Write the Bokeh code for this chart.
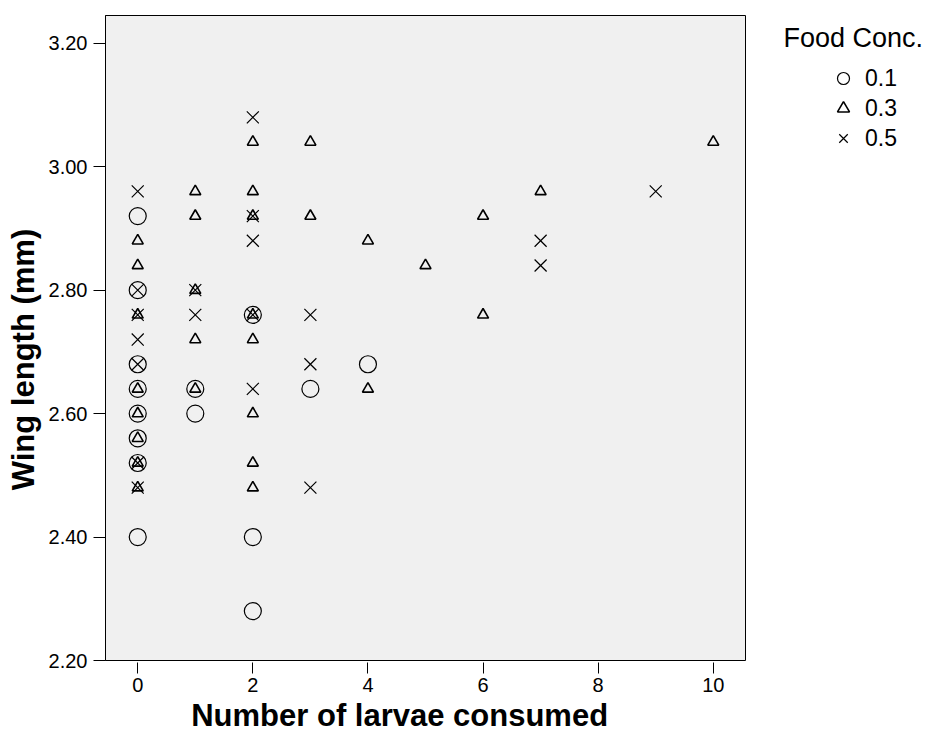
from bokeh.plotting import figure
from bokeh.layouts import row
from bokeh.models import (Range1d, FixedTicker, PrintfTickFormatter, Legend, LegendItem,
                          Label, ColumnDataSource)
from bokeh.embed import file_html
from bokeh.resources import INLINE

# ---- data ----
legend_title = "Food Conc."
conc_labels = ["0.1", "0.3", "0.5"]
conc_markers = ["circle", "triangle", "x"]

conc01_larvae = [0, 0, 0, 0, 0, 0, 0, 0, 1, 1, 2, 2, 2, 3, 4]
conc01_wing = [2.92, 2.80, 2.68, 2.64, 2.60, 2.56, 2.52, 2.40, 2.64, 2.60, 2.76, 2.40, 2.28, 2.64, 2.68]

conc03_larvae = [0, 0, 0, 0, 0, 0, 0, 0, 1, 1, 1, 1, 1, 2, 2, 2, 2, 2, 2, 2, 2,
                 3, 3, 4, 4, 5, 6, 6, 7, 10]
conc03_wing = [2.88, 2.84, 2.76, 2.64, 2.60, 2.56, 2.52, 2.48,
               2.96, 2.92, 2.80, 2.72, 2.64,
               3.04, 2.96, 2.92, 2.76, 2.72, 2.60, 2.52, 2.48,
               3.04, 2.92, 2.88, 2.64, 2.84, 2.92, 2.76, 2.96, 3.04]

conc05_larvae = [0, 0, 0, 0, 0, 0, 0, 1, 1, 2, 2, 2, 2, 2, 3, 3, 3, 7, 7, 9]
conc05_wing = [2.96, 2.80, 2.76, 2.72, 2.68, 2.52, 2.48,
               2.80, 2.76,
               3.08, 2.92, 2.88, 2.76, 2.64,
               2.76, 2.68, 2.48,
               2.88, 2.84, 2.96]

x_ticks = [0, 2, 4, 6, 8, 10]
y_ticks = [2.20, 2.40, 2.60, 2.80, 3.00, 3.20]
x_label = "Number of larvae consumed"
y_label = "Wing length (mm)"

FONT = "Liberation Sans"
marker_style = {
    "circle": dict(size=17, line_width=1.2),
    "triangle": dict(size=11, line_width=1.6),
    "x": dict(size=17, line_width=1.2),
}

# ---------------- main plot ----------------
p = figure(width=760, height=740, output_backend="svg", toolbar_location=None,
           x_range=Range1d(-0.56, 10.56), y_range=Range1d(2.20, 3.245),
           min_border_left=105, min_border_right=15, min_border_top=15, min_border_bottom=80)

p.background_fill_color = "#f0f0f0"
p.border_fill_color = "white"
p.outline_line_color = "black"
p.outline_line_width = 1
p.grid.visible = False

series = [(conc01_larvae, conc01_wing), (conc03_larvae, conc03_wing), (conc05_larvae, conc05_wing)]
for (xs, ys), mk in zip(series, conc_markers):
    src = ColumnDataSource(dict(x=xs, y=ys))
    p.scatter("x", "y", source=src, marker=mk, fill_color=None, line_color="black",
              **marker_style[mk])

xa = p.xaxis[0]
xa.ticker = FixedTicker(ticks=x_ticks)
xa.axis_line_color = None
xa.major_tick_in = -2
xa.major_tick_out = 13
xa.major_tick_line_color = "black"
xa.minor_tick_line_color = None
xa.major_label_standoff = 4
xa.major_label_text_font = FONT
xa.major_label_text_font_size = "20px"
xa.major_label_text_color = "black"
xa.axis_label = x_label + "\u00a0" * 6
xa.axis_label_text_font = FONT
xa.axis_label_text_font_style = "bold"
xa.axis_label_text_font_size = "31px"
xa.axis_label_text_color = "black"
xa.axis_label_standoff = 3

ya = p.yaxis[0]
ya.ticker = FixedTicker(ticks=y_ticks)
ya.formatter = PrintfTickFormatter(format="%.2f")
ya.axis_line_color = "black"
ya.major_tick_in = 0
ya.major_tick_out = 12
ya.major_tick_line_color = "black"
ya.minor_tick_line_color = None
ya.major_label_standoff = 6
ya.major_label_text_font = FONT
ya.major_label_text_font_size = "20px"
ya.major_label_text_color = "black"
ya.axis_label = y_label + "\u00a0" * 5
ya.axis_label_text_font = FONT
ya.axis_label_text_font_style = "bold"
ya.axis_label_text_font_size = "31px"
ya.axis_label_text_color = "black"
ya.axis_label_standoff = 5

# ---------------- legend panel ----------------
# (its frame is aligned with the main plot's frame by the row layout)
lg = figure(width=183, height=740, output_backend="svg", toolbar_location=None,
            x_range=Range1d(0, 1), y_range=Range1d(0, 1),
            x_axis_location=None, y_axis_location=None,
            min_border_left=0, min_border_right=0, min_border_top=15, min_border_bottom=80)
lg.grid.visible = False
lg.outline_line_color = None
lg.background_fill_color = "white"
lg.border_fill_color = "white"

items = []
for (xs, ys), lab, mk in zip(series, conc_labels, conc_markers):
    # legend proxies: same series, lying outside this panel's (0..1) view
    src = ColumnDataSource(dict(x=xs, y=ys))
    r = lg.scatter("x", "y", source=src, marker=mk, fill_color=None, line_color="black",
                   line_width=marker_style[mk]["line_width"])
    items.append(LegendItem(label=lab, renderers=[r], index=0))

legend = Legend(items=items, location=(68, 507), orientation="vertical",
                glyph_width=30, glyph_height=30, label_standoff=7, spacing=0,
                padding=0, margin=0, border_line_color=None, background_fill_alpha=0,
                label_text_font=FONT, label_text_font_size="23px", label_text_color="black")
lg.add_layout(legend)

lg.add_layout(Label(x=23, y=623, x_units="screen", y_units="screen", text=legend_title,
                    text_font=FONT, text_font_size="27px", text_baseline="middle",
                    text_align="left", text_color="black"))

open("out.html", "w").write(file_html(row(p, lg), INLINE))
